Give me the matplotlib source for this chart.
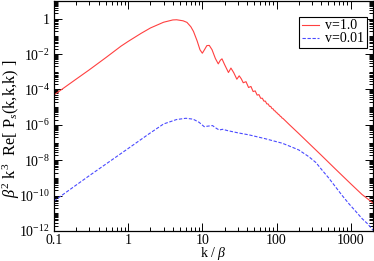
import numpy as np
import matplotlib
matplotlib.use("Agg")
import matplotlib.pyplot as plt
from matplotlib.ticker import LogLocator, FuncFormatter, NullFormatter, FixedLocator

plt.rcParams['font.family'] = ['Liberation Serif', 'DejaVu Serif']
plt.rcParams['mathtext.fontset'] = 'custom'
plt.rcParams['mathtext.rm'] = 'Liberation Serif'
plt.rcParams['mathtext.it'] = 'Liberation Serif:italic'
plt.rcParams['mathtext.bf'] = 'Liberation Serif:bold'

# ---- data ----
k_red = [0.1, 0.2, 0.3, 0.5, 0.8, 1.0, 1.5, 2.0, 3.0, 4.0, 4.5, 5.5, 6.2, 7.0, 7.6,
         8.5, 9.3, 10.0, 10.7, 11.5, 12.4, 13.5, 15.0, 16.4, 17.5, 18.4, 20.0,
         22.5, 24.3, 26.5, 29.2, 31.4, 33.5, 35.6, 38.8, 42.0, 45.2, 48.4, 51.6,
         54.8, 58.0, 61.2, 64.4, 67.6, 70.8, 74.0, 77.2, 80.4, 83.6, 86.8, 90.0,
         93.2, 96.4, 99.6, 102.8, 106.0, 109.2, 112.4, 115.6, 118.8, 122.0,
         150, 200, 273, 400, 622, 1000, 1419, 2000]
v_red = [4.9e-5, 3.9e-4, 1.3e-3, 6.3e-3, 2.8e-2, 5.2e-2, 1.5e-1, 3.0e-1, 6.3e-1,
         8.5e-1, 8.7e-1, 7.6e-1, 6.2e-1, 3.5e-1, 1.9e-1,
         5.6e-2, 1.74e-2, 1.12e-2, 1.78e-2, 3.0e-2, 3.1e-2, 1.78e-2, 5.6e-3,
         2.8e-3, 4.5e-3, 5.4e-3, 2.5e-3,
         9.1e-4, 1.62e-3, 8.9e-4, 3.8e-4, 5.9e-4, 4.0e-4, 2.4e-4, 2.75e-4,
         1.29e-4, 1.48e-4, 7.6e-5, 8.3e-5,
         4.8e-5, 5.1e-5, 3.16e-5, 3.2e-5, 2.19e-5, 2.19e-5, 1.53e-5, 1.51e-5,
         1.12e-5, 1.10e-5, 8.3e-6, 8.0e-6,
         6.3e-6, 6.0e-6, 4.9e-6, 4.6e-6, 3.85e-6, 3.63e-6, 3.05e-6, 2.88e-6,
         2.43e-6, 2.32e-6,
         1.0e-6, 3.2e-7, 9.1e-8, 1.95e-8, 3.2e-9, 4.7e-10, 1.17e-10, 3.8e-11]

k_blue = [0.1, 0.3, 1.0, 1.95, 3.0, 4.5, 6.0, 7.5, 9.0, 10.6, 12.0, 13.7, 15.5,
          16.9, 18.7, 22.0, 30.0, 42.8, 70.0, 120, 160, 200, 273, 340, 412,
          500, 622, 760, 940, 1150, 1419, 1700, 2000]
v_blue = [5.0e-11, 1.35e-9, 4.6e-8, 3.3e-7, 1.12e-6, 2.0e-6, 2.35e-6, 2.1e-6,
          1.41e-6, 7.9e-7, 8.5e-7, 9.1e-7, 6.3e-7,
          5.1e-7, 5.6e-7, 4.7e-7, 3.55e-7, 2.7e-7, 1.66e-7, 9.1e-8, 5.6e-8,
          3.8e-8, 1.58e-8, 7.4e-9, 2.75e-9,
          1.05e-9, 3.2e-10, 1.07e-10, 3.6e-11, 1.4e-11, 5.1e-12, 2.5e-12, 1.1e-12]

labels = ['v=1.0', 'v=0.01']
colors = ['#ff4040', '#4a4aff']

fig = plt.figure(figsize=(3.74, 2.61), dpi=100)
ax = fig.add_axes([54/374, 30/261, 319/374, 230/261])

ax.plot(k_red, v_red, color=colors[0], lw=0.8, label=labels[0])
ax.plot(k_blue, v_blue, color=colors[1], lw=0.8, ls=(0, (3, 1.5)), label=labels[1])

ax.set_xscale('log')
ax.set_yscale('log')
ax.set_xlim(0.1, 2000)
ax.set_ylim(1e-12, 10)

ax.yaxis.set_major_locator(FixedLocator([10.0**e for e in range(-12, 1, 2)]))
ax.yaxis.set_minor_locator(LogLocator(base=10, subs=np.arange(1, 10), numticks=100))
def yfmt(v, pos):
    e = int(round(np.log10(v)))
    return '1' if e == 0 else r'$10^{%d}$' % e
ax.yaxis.set_major_formatter(FuncFormatter(yfmt))
ax.yaxis.set_minor_formatter(NullFormatter())

ax.xaxis.set_major_locator(FixedLocator([0.1, 1, 10, 100, 1000]))
ax.xaxis.set_minor_locator(LogLocator(base=10, subs=np.arange(2, 10), numticks=100))
ax.xaxis.set_major_formatter(FuncFormatter(lambda v, p: ('%g' % v)))
ax.xaxis.set_minor_formatter(NullFormatter())

ax.tick_params(which='both', direction='in', top=True, right=True, labelsize=10, width=0.7)
ax.tick_params(which='major', length=5.5, pad=3)
ax.tick_params(axis='x', which='major', pad=2)
ax.tick_params(which='minor', length=2.8)
for s in ax.spines.values():
    s.set_linewidth(0.9)

ax.set_xlabel(r'k / $\beta$', fontsize=10)
ax.xaxis.set_label_coords(0.498, -0.060)
ax.set_ylabel(r'$\beta^2$ k$^3$  Re[ P$_s$(k,k,k) ]', fontsize=11.8)
ax.yaxis.set_label_coords(-0.100, 0.446)

leg = ax.legend(loc='upper right', bbox_to_anchor=(0.98, 0.932), fontsize=10,
                fancybox=False, edgecolor='black', framealpha=1, borderaxespad=0,
                handlelength=1.2, handletextpad=0.45, borderpad=0.2, labelspacing=0.0)
leg.get_frame().set_linewidth(0.8)

fig.savefig('out.png', dpi=100)
